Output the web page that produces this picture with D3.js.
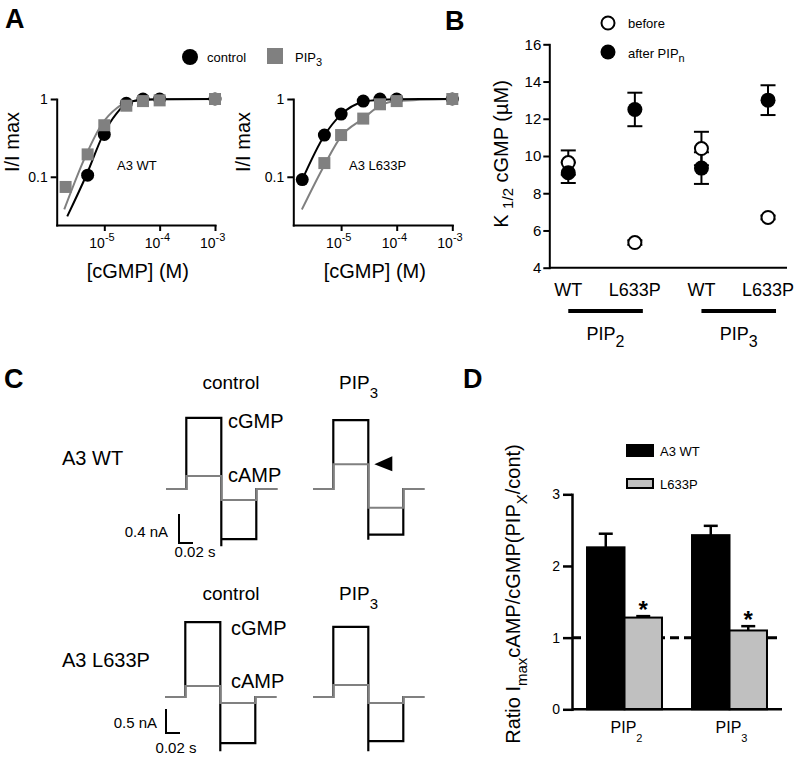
<!DOCTYPE html>
<html>
<head>
<meta charset="utf-8">
<script src="https://cdn.jsdelivr.net/npm/d3@7"></script>
<style>
  body { margin: 0; background: #fff; }
  svg { display: block; }
  text { font-family: "Liberation Sans", Arial, Helvetica, sans-serif; fill: #000; }
</style>
</head>
<body>
<svg id="fig" width="796" height="758"></svg>
<script>
// ================= DATA =================
// ---- Panel A : dose-response (I/Imax vs [cGMP]) ----
const aTickValuesX = [1e-5, 1e-4, 1e-3];
const aTickExpX = ["-5", "-4", "-3"];
const aTickValuesY = [0.1, 1];
const aTickLabelsY = ["0.1", "1"];
const aLegend = ["control", "PIP3"];

// A3 WT
const wtCtrlConc = [5e-6, 1e-5, 2.5e-5, 5e-5, 1e-4, 1e-3];
const wtCtrlResp = [0.105, 0.35, 0.88, 1.0, 1.0, 1.0];
const wtPip3Conc = [2e-6, 5e-6, 1e-5, 2.5e-5, 5e-5, 1e-4, 1e-3];
const wtPip3Resp = [0.074, 0.194, 0.46, 0.82, 0.94, 0.96, 1.0];
const wtCtrlFitConc = [2.14e-6, 4.8e-6, 9.6e-6, 1.67e-5, 2.54e-5, 4.4e-5, 1e-4, 1e-3];
const wtCtrlFitResp = [0.031, 0.107, 0.351, 0.655, 0.88, 0.97, 0.995, 1.0];
const wtPip3FitConc = [1.89e-6, 4.67e-6, 8.97e-6, 1.67e-5, 3.34e-5, 1e-4, 1e-3];
const wtPip3FitResp = [0.038, 0.19, 0.47, 0.76, 0.94, 0.99, 1.0];

// A3 L633P
const mutCtrlConc = [2e-6, 5e-6, 1e-5, 2.5e-5, 5e-5, 1e-4, 1e-3];
const mutCtrlResp = [0.092, 0.344, 0.64, 0.94, 1.0, 1.0, 1.0];
const mutPip3Conc = [5e-6, 1e-5, 2.5e-5, 5e-5, 1e-4, 1e-3];
const mutPip3Resp = [0.15, 0.344, 0.56, 0.855, 0.94, 1.0];
const mutCtrlFitConc = [2e-6, 5e-6, 1e-5, 2.5e-5, 5e-5, 1e-4, 1e-3];
const mutCtrlFitResp = [0.092, 0.34, 0.63, 0.92, 0.98, 0.995, 1.0];
const mutPip3FitConc = [1.97e-6, 5e-6, 1e-5, 2.5e-5, 5e-5, 1e-4, 1e-3];
const mutPip3FitResp = [0.038, 0.141, 0.33, 0.56, 0.82, 0.94, 1.0];

// ---- Panel B : K1/2 ----
const bGroups = ["WT", "L633P", "WT", "L633P"];
const bTreatments = ["2", "3"];            // PIP subscripts
const bBefore = [9.65, 5.35, 10.4, 6.7];
const bBeforeErr = [0.65, 0.12, 0.9, 0.1];
const bAfter = [9.1, 12.5, 9.35, 13.0];
const bAfterErr = [0.55, 0.9, 0.85, 0.8];
const bTicks = [4, 6, 8, 10, 12, 14, 16];
const bLegend = ["before", "after PIP"];

// ---- Panel C : current traces (t in s, I in nA) ----
const cTimes = [0, 0.029, 0.079, 0.129, 0.159];
const cRowLabels = ["A3 WT", "A3 L633P"];
const cCondLabels = ["control", "PIP3"];
// levels: [pre, +pulse, -pulse, post]
const wtCtrlCGMP = [0, 0.98, -0.69, 0];
const wtCtrlCAMP = [0, 0.18, -0.15, 0];
const wtPip3CGMP = [0, 0.95, -0.63, 0];
const wtPip3CAMP = [0, 0.34, -0.26, 0];
const mutCtrlCGMP = [0, 1.56, -0.96, 0];
const mutCtrlCAMP = [0, 0.23, -0.125, 0];
const mutPip3CGMP = [0, 1.46, -0.92, 0];
const mutPip3CAMP = [0, 0.25, -0.125, 0];
const cgmpTransient = [-0.79, -0.70, -1.13, -1.13];
const cScaleBarNA = [0.4, 0.5];
const cScaleBarS = 0.02;

// ---- Panel D : ratio bars ----
const dGroups = ["2", "3"];                // PIP subscripts
const dSeries = ["A3 WT", "L633P"];
const dWT = [2.26, 2.43];
const dWTErr = [0.19, 0.13];
const dMut = [1.28, 1.10];
const dMutErr = [0.02, 0.06];
const dTicks = [0, 1, 2, 3];
const dRef = 1;

// ================= DRAWING =================
const svg = d3.select("#fig");
const GRAY = "#808080";
const LIGHT = "#c0c0c0";

function richText(g, x, y, parts, size, anchor, subSize, subDy) {
  const t = g.append("text").attr("x", x).attr("y", y)
    .attr("font-size", size).attr("text-anchor", anchor || "start");
  let shift = 0;
  parts.forEach(p => {
    const ts = t.append("tspan").text(p[0]);
    const target = p[1] === "sub" ? subDy : (p[1] === "sup" ? -subDy : 0);
    ts.attr("dy", target - shift);
    if (p[1]) ts.attr("font-size", subSize);
    shift = target;
  });
  return t;
}
function styleAxis(sel, w) {
  sel.select(".domain").attr("stroke", "#000").attr("stroke-width", w).attr("stroke-linecap", "square");
  sel.selectAll(".tick line").attr("stroke", "#000").attr("stroke-width", w);
  sel.selectAll(".tick text").attr("fill", "#000")
    .style("font-family", '"Liberation Sans", Arial, sans-serif');
}

// Panel letters
[["A", 5, 28], ["B", 445, 30], ["C", 4, 388], ["D", 463, 388]].forEach(d => {
  svg.append("text").attr("x", d[1]).attr("y", d[2]).attr("font-size", 27)
    .attr("font-weight", "bold").text(d[0]);
});

// ---------- Panel A ----------
function drawA(x0, x1, ctrlC, ctrlR, pipC, pipR, ctrlFC, ctrlFR, pipFC, pipFR, label, labelX, ylabX) {
  const g = svg.append("g");
  const x = d3.scaleLog().domain([Math.pow(10, -5.86), 1e-3]).range([x0, x1]);
  const y = d3.scaleLog().domain([Math.pow(10, -1.62), 1]).range([225, 99]);

  const xa = g.append("g").attr("transform", "translate(0,225)")
    .call(d3.axisBottom(x).tickValues(aTickValuesX).tickSize(6).tickSizeOuter(0).tickFormat(""));
  styleAxis(xa, 2);
  const ya = g.append("g").attr("transform", `translate(${x0},0)`)
    .call(d3.axisLeft(y).tickValues(aTickValuesY).tickSize(6).tickSizeOuter(0).tickPadding(3)
      .tickFormat((d, i) => aTickLabelsY[i]));
  styleAxis(ya, 2);
  ya.selectAll(".tick text").attr("font-size", 14);

  aTickValuesX.forEach((v, i) => {
    richText(g, x(v) - 15, 248, [["10"], [aTickExpX[i], "sup"]], 14, "start", 11, 7);
  });
  g.append("text").attr("x", (x0 + x1) / 2 + 2).attr("y", 278).attr("font-size", 20)
    .attr("text-anchor", "middle").text("[cGMP] (M)");
  g.append("text").attr("transform", `translate(${ylabX},142) rotate(-90)`)
    .attr("font-size", 20).attr("text-anchor", "middle").text("I/I max");

  const line = d3.line().x(d => x(d[0])).y(d => y(d[1])).curve(d3.curveMonotoneX);
  g.append("path").attr("d", line(d3.zip(pipFC, pipFR))).attr("fill", "none")
    .attr("stroke", GRAY).attr("stroke-width", 2);
  g.append("path").attr("d", line(d3.zip(ctrlFC, ctrlFR))).attr("fill", "none")
    .attr("stroke", "#000").attr("stroke-width", 2);

  g.selectAll(".cc").data(d3.zip(ctrlC, ctrlR)).join("circle")
    .attr("cx", d => x(d[0])).attr("cy", d => y(d[1])).attr("r", 6.5).attr("fill", "#000");
  g.selectAll(".sq").data(d3.zip(pipC, pipR)).join("rect")
    .attr("x", d => x(d[0]) - 6).attr("y", d => y(d[1]) - 6)
    .attr("width", 12).attr("height", 12).attr("fill", GRAY);

  g.append("text").attr("x", labelX).attr("y", 170).attr("font-size", 13).text(label);
}
drawA(56.7, 215, wtCtrlConc, wtCtrlResp, wtPip3Conc, wtPip3Resp,
  wtCtrlFitConc, wtCtrlFitResp, wtPip3FitConc, wtPip3FitResp, "A3 WT", 117, 19);
drawA(293.3, 452.3, mutCtrlConc, mutCtrlResp, mutPip3Conc, mutPip3Resp,
  mutCtrlFitConc, mutCtrlFitResp, mutPip3FitConc, mutPip3FitResp, "A3 L633P", 349, 250);

// legend A
svg.append("circle").attr("cx", 190).attr("cy", 57).attr("r", 8).attr("fill", "#000");
svg.append("text").attr("x", 207).attr("y", 62).attr("font-size", 13).text(aLegend[0]);
svg.append("rect").attr("x", 267).attr("y", 48).attr("width", 16).attr("height", 16).attr("fill", GRAY);
richText(svg, 295, 62, [[aLegend[1].slice(0, 3)], [aLegend[1].slice(3), "sub"]], 13, "start", 11, 4);

// ---------- Panel B ----------
(function () {
  const g = svg.append("g");
  const y = d3.scaleLinear().domain([4, 16]).range([267.7, 44.3]);
  const x = d3.scalePoint().domain(d3.range(bGroups.length)).range([549.3, 787]).padding(0.285);
  const ya = g.append("g").attr("transform", "translate(549.3,0)")
    .call(d3.axisLeft(y).tickValues(bTicks).tickSize(6).tickSizeOuter(0).tickPadding(2)
      .tickFormat(d3.format("d")));
  styleAxis(ya, 2);
  ya.selectAll(".tick text").attr("font-size", 15);
  g.append("line").attr("x1", 549.3).attr("x2", 787).attr("y1", 267.7).attr("y2", 267.7)
    .attr("stroke", "#000").attr("stroke-width", 2);

  bGroups.forEach((d, i) => {
    g.append("text").attr("x", x(i)).attr("y", 296).attr("font-size", 18)
      .attr("text-anchor", "middle").text(d);
  });
  bTreatments.forEach((t, j) => {
    const xa = x(2 * j), xb = x(2 * j + 1) + 8;
    g.append("line").attr("x1", xa).attr("x2", xb).attr("y1", 311).attr("y2", 311)
      .attr("stroke", "#000").attr("stroke-width", 4);
    richText(g, (xa + xb) / 2, 340, [["PIP"], [t, "sub"]], 18, "middle", 16, 7);
  });

  function errBar(cx, v, e) {
    g.append("line").attr("x1", cx).attr("x2", cx).attr("y1", y(v - e)).attr("y2", y(v + e))
      .attr("stroke", "#000").attr("stroke-width", 2);
    [v - e, v + e].forEach(vv => g.append("line").attr("x1", cx - 7.5).attr("x2", cx + 7.5)
      .attr("y1", y(vv)).attr("y2", y(vv)).attr("stroke", "#000").attr("stroke-width", 2));
  }
  bGroups.forEach((d, i) => { errBar(x(i), bBefore[i], bBeforeErr[i]); errBar(x(i), bAfter[i], bAfterErr[i]); });
  g.selectAll(".bo").data(bBefore).join("circle")
    .attr("cx", (d, i) => x(i)).attr("cy", d => y(d)).attr("r", 6.5)
    .attr("fill", "#fff").attr("stroke", "#000").attr("stroke-width", 2);
  g.selectAll(".ba").data(bAfter).join("circle")
    .attr("cx", (d, i) => x(i)).attr("cy", d => y(d)).attr("r", 7.5).attr("fill", "#000");

  g.append("text").attr("transform", "translate(508,154) rotate(-90)")
    .attr("font-size", 20).attr("text-anchor", "middle")
    .call(t => {
      t.append("tspan").text("K ");
      t.append("tspan").attr("dy", 5).attr("font-size", 15).text("1/2");
      t.append("tspan").attr("dy", -5).text(" cGMP (µM)");
    });

  // legend
  g.append("circle").attr("cx", 608).attr("cy", 23).attr("r", 6.5)
    .attr("fill", "#fff").attr("stroke", "#000").attr("stroke-width", 2);
  g.append("text").attr("x", 628).attr("y", 28).attr("font-size", 13).text(bLegend[0]);
  g.append("circle").attr("cx", 608).attr("cy", 52).attr("r", 7.5).attr("fill", "#000");
  richText(g, 628, 58, [[bLegend[1]], ["n", "sub"]], 13, "start", 11, 4);
})();

// ---------- Panel C ----------
(function () {
  const g = svg.append("g");
  const traces = [
    { ox: 166, oy: 489, ppn: 72.5, cg: wtCtrlCGMP, ca: wtCtrlCAMP, tr: cgmpTransient[0] },
    { ox: 313, oy: 489, ppn: 72.5, cg: wtPip3CGMP, ca: wtPip3CAMP, tr: cgmpTransient[1] },
    { ox: 165, oy: 697, ppn: 48, cg: mutCtrlCGMP, ca: mutCtrlCAMP, tr: cgmpTransient[2] },
    { ox: 313, oy: 697, ppn: 48, cg: mutPip3CGMP, ca: mutPip3CAMP, tr: cgmpTransient[3] }
  ];
  traces.forEach(T => {
    const x = d3.scaleLinear().domain([0, 0.159]).range([T.ox, T.ox + 0.159 * 700]);
    const y = d3.scaleLinear().domain([0, 1]).range([T.oy, T.oy - T.ppn]);
    const line = d3.line().x(d => x(d[0])).y(d => y(d[1]));
    const t = cTimes;
    const cgPts = [[t[0], T.cg[0]], [t[1], T.cg[0]], [t[1], T.cg[1]], [t[2], T.cg[1]],
      [t[2], T.tr], [t[2], T.cg[2]], [t[3], T.cg[2]], [t[3], T.cg[3]], [t[4], T.cg[3]]];
    const caPts = [[t[0], T.ca[0]], [t[1], T.ca[0]], [t[1], T.ca[1]], [t[2], T.ca[1]],
      [t[2], T.ca[2]], [t[3], T.ca[2]], [t[3], T.ca[3]], [t[4], T.ca[3]]];
    g.append("path").attr("d", line(cgPts)).attr("fill", "none").attr("stroke", "#000")
      .attr("stroke-width", 2.2).attr("stroke-linejoin", "miter");
    g.append("path").attr("d", line(caPts)).attr("fill", "none").attr("stroke", GRAY)
      .attr("stroke-width", 2);
    T.x = x; T.y = y;
  });
  // arrowhead next to WT PIP3 cAMP level
  const T1 = traces[1];
  const ax = T1.x(cTimes[2]) + 6, ay = T1.y(wtPip3CAMP[1]);
  g.append("path").attr("d", `M${ax},${ay} L${ax + 18},${ay - 8} L${ax + 18},${ay + 7} Z`).attr("fill", "#000");

  // labels
  [389, 600].forEach((yy, r) => {
    g.append("text").attr("x", 231).attr("y", yy).attr("font-size", 19)
      .attr("text-anchor", "middle").text(cCondLabels[0]);
    richText(g, 339, yy, [["PIP"], ["3", "sub"]], 19, "start", 15, 9);
    g.append("text").attr("x", 62).attr("y", r === 0 ? 465 : 667).attr("font-size", 20).text(cRowLabels[r]);
  });
  [[228, 428, 482], [231, 635, 688]].forEach(d => {
    g.append("text").attr("x", d[0]).attr("y", d[1]).attr("font-size", 20).text("cGMP");
    g.append("text").attr("x", d[0]).attr("y", d[2]).attr("font-size", 20).text("cAMP");
  });

  // scale bars
  const bars = [{ x0: 179, y0: 543, ppn: 72.5, nA: cScaleBarNA[0], ly: 537, lx: 168, sy: 557, sx: 195 },
                { x0: 166, y0: 733, ppn: 48, nA: cScaleBarNA[1], ly: 728, lx: 157, sy: 753, sx: 176 }];
  bars.forEach(b => {
    const xs = d3.scaleLinear().domain([0, 1]).range([b.x0, b.x0 + 700]);
    const ys = d3.scaleLinear().domain([0, 1]).range([b.y0, b.y0 - b.ppn]);
    g.append("path").attr("d", `M${b.x0},${ys(b.nA)} L${b.x0},${b.y0} L${xs(cScaleBarS)},${b.y0}`)
      .attr("fill", "none").attr("stroke", "#000").attr("stroke-width", 2);
    g.append("text").attr("x", b.lx).attr("y", b.ly).attr("font-size", 15)
      .attr("text-anchor", "end").text(b.nA + " nA");
    g.append("text").attr("x", b.sx).attr("y", b.sy).attr("font-size", 15)
      .attr("text-anchor", "middle").text(cScaleBarS + " s");
  });
})();

// ---------- Panel D ----------
(function () {
  const g = svg.append("g");
  const y = d3.scaleLinear().domain([0, 3]).range([709.3, 494.3]);
  const x0 = d3.scaleBand().domain(dGroups).range([572, 782]).paddingInner(0.286).paddingOuter(0.143);
  const x1 = d3.scaleBand().domain(dSeries).range([0, x0.bandwidth()]);

  // reference dashed line
  g.append("line").attr("x1", 572).attr("x2", 782).attr("y1", y(dRef)).attr("y2", y(dRef))
    .attr("stroke", "#000").attr("stroke-width", 3).attr("stroke-dasharray", "9,5");

  const vals = [dWT, dMut], errs = [dWTErr, dMutErr];
  dGroups.forEach((grp, i) => {
    dSeries.forEach((s, j) => {
      const bx = x0(grp) + x1(s), bw = x1.bandwidth(), v = vals[j][i], e = errs[j][i];
      const cx = bx + bw / 2;
      g.append("line").attr("x1", cx).attr("x2", cx).attr("y1", y(v)).attr("y2", y(v + e))
        .attr("stroke", "#000").attr("stroke-width", 2.5);
      g.append("line").attr("x1", cx - 7).attr("x2", cx + 7).attr("y1", y(v + e)).attr("y2", y(v + e))
        .attr("stroke", "#000").attr("stroke-width", 2.5);
      g.append("rect").attr("x", bx).attr("y", y(v)).attr("width", bw).attr("height", y(0) - y(v))
        .attr("fill", j === 0 ? "#000" : LIGHT).attr("stroke", "#000").attr("stroke-width", 2);
      if (j === 1) {
        g.append("text").attr("x", cx).attr("y", y(v + e) + 2).attr("font-size", 24)
          .attr("font-weight", "bold").attr("text-anchor", "middle").text("*");
      }
    });
    richText(g, x0(grp) + x0.bandwidth() / 2 + 2, 733, [["PIP"], [grp, "sub"]], 16, "middle", 11, 9);
  });

  const ya = g.append("g").attr("transform", "translate(572,0)")
    .call(d3.axisLeft(y).tickValues(dTicks).tickSize(9).tickSizeOuter(0).tickPadding(3)
      .tickFormat(d3.format("d")));
  styleAxis(ya, 2.5);
  ya.selectAll(".tick text").attr("font-size", 14);
  g.append("line").attr("x1", 572).attr("x2", 782).attr("y1", y(0)).attr("y2", y(0))
    .attr("stroke", "#000").attr("stroke-width", 2.5);

  g.append("text").attr("transform", "translate(520,594) rotate(-90)")
    .attr("font-size", 20).attr("text-anchor", "middle")
    .call(t => {
      t.append("tspan").text("Ratio I");
      t.append("tspan").attr("dy", 7).attr("font-size", 15).text("max");
      t.append("tspan").attr("dy", -7).text("cAMP/cGMP(PIP");
      t.append("tspan").attr("dy", 7).attr("font-size", 15).text("X");
      t.append("tspan").attr("dy", -7).text("/cont)");
    });

  // legend
  g.append("rect").attr("x", 627).attr("y", 445).attr("width", 26).attr("height", 11)
    .attr("fill", "#000").attr("stroke", "#000").attr("stroke-width", 2);
  g.append("text").attr("x", 660).attr("y", 456).attr("font-size", 13).text(dSeries[0]);
  g.append("rect").attr("x", 627).attr("y", 479).attr("width", 26).attr("height", 9)
    .attr("fill", LIGHT).attr("stroke", "#000").attr("stroke-width", 2);
  g.append("text").attr("x", 660).attr("y", 489).attr("font-size", 13).text(dSeries[1]);
})();
</script>
</body>
</html>
